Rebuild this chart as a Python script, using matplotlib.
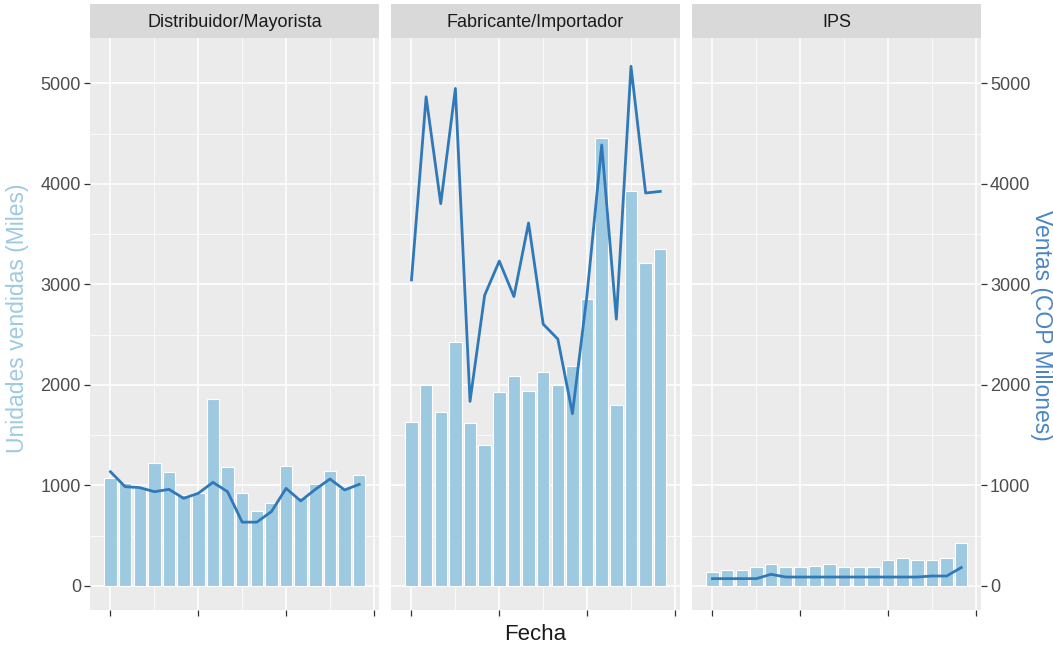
import matplotlib
matplotlib.use('Agg')
import matplotlib.pyplot as plt
import numpy as np

plt.rcParams['font.family'] = ['Liberation Sans', 'DejaVu Sans']

panels = ['Distribuidor/Mayorista', 'Fabricante/Importador', 'IPS']

# unidades vendidas (miles) - barras
unidades = {
    'Distribuidor/Mayorista': [1069, 1020, 970, 1225, 1129, 904, 921, 1861, 1178,
                               921, 749, 822, 1195, 880, 1010, 1145, 970, 1102],
    'Fabricante/Importador': [1630, 2000, 1730, 2429, 1620, 1406, 1927, 2092, 1941,
                              2125, 2000, 2185, 2858, 4459, 1802, 3924, 3208, 3347],
    'IPS': [139, 155, 155, 188, 218, 188, 188, 201, 218,
            188, 188, 188, 261, 277, 261, 261, 277, 426],
}

# ventas (COP millones) - linea
ventas = {
    'Distribuidor/Mayorista': [1135, 987, 977, 937, 960, 871, 921, 1030, 937,
                               634, 634, 739, 970, 845, 960, 1063, 954, 1010],
    'Fabricante/Importador': [3043, 4865, 3802, 4948, 1835, 2891, 3231, 2878, 3610,
                              2604, 2455, 1713, 2900, 4386, 2653, 5168, 3908, 3924],
    'IPS': [72, 72, 72, 72, 115, 88, 88, 88, 88,
            88, 88, 88, 88, 88, 88, 98, 98, 182],
}

bar_color = '#9ECAE1'
line_color = '#3079B8'
x = np.arange(18)

fig = plt.figure(figsize=(10.53, 6.47), dpi=100)
W, H = 1053, 647
lefts = [90, 391, 692]
pw = 289
top, bottom = 38, 610
strip_top = 4

axes = []
for i, name in enumerate(panels):
    ax = fig.add_axes([lefts[i] / W, 1 - bottom / H, pw / W, (bottom - top) / H])
    ax.set_facecolor('#EBEBEB')
    ax.bar(x, unidades[name], width=0.85, color=bar_color, edgecolor='white',
           linewidth=0.8, zorder=2)
    ax.plot(x, ventas[name], color=line_color, lw=2.0, zorder=3)
    ax.set_xlim(-1.4, 18.35)
    ax.set_ylim(-240, 5450)

    ax.set_xticks([0, 6, 12, 18])
    ax.set_xticklabels([])
    ax.set_xticks([3, 9, 15], minor=True)
    ax.set_yticks([0, 1000, 2000, 3000, 4000, 5000])
    ax.set_yticks([500, 1500, 2500, 3500, 4500], minor=True)
    ax.grid(which='major', color='white', lw=1.1, zorder=0)
    ax.grid(which='minor', color='white', lw=0.55, zorder=0)
    ax.set_axisbelow(True)
    for s in ax.spines.values():
        s.set_visible(False)
    ax.tick_params(which='minor', length=0)
    ax.tick_params(which='major', length=4.5, color='#333333', width=0.9,
                   labelsize=13, labelcolor='#4D4D4D', pad=2)
    if i != 0:
        ax.tick_params(axis='y', length=0, labelleft=False)

    # strip
    sax = fig.add_axes([lefts[i] / W, 1 - top / H, pw / W, (top - strip_top) / H])
    sax.set_facecolor('#D9D9D9')
    sax.set_xticks([])
    sax.set_yticks([])
    for s in sax.spines.values():
        s.set_visible(False)
    sax.text(0.5, 0.47, name, ha='center', va='center', fontsize=13,
             color='#1A1A1A', transform=sax.transAxes)
    axes.append(ax)

# eje secundario a la derecha
sec = axes[2].secondary_yaxis('right')
sec.set_yticks([0, 1000, 2000, 3000, 4000, 5000])
for s in sec.spines.values():
    s.set_visible(False)
sec.tick_params(length=4.5, color='#333333', width=0.9, labelsize=13,
                labelcolor='#4D4D4D', pad=2)

fig.text(18 / W, 1 - 318 / H, 'Unidades vendidas (Miles)', rotation=90,
         ha='center', va='center', fontsize=16.5, color=bar_color)
fig.text(1042 / W, 1 - 325 / H, 'Ventas (COP Millones)', rotation=-90,
         ha='center', va='center', fontsize=16.5, color='#4A86C5')
fig.text(535 / W, 1 - 635 / H, 'Fecha', ha='center', va='center',
         fontsize=16, color='#1A1A1A')

fig.savefig('out.png', dpi=100, facecolor='white')
